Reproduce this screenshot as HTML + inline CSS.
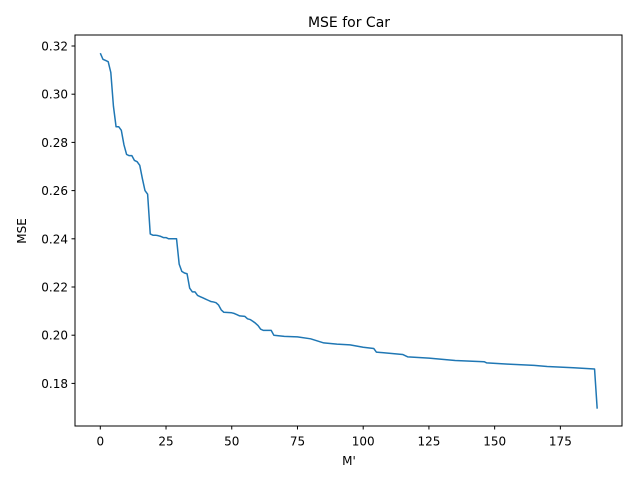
<!DOCTYPE html>
<html><head><meta charset="utf-8"><style>
body{margin:0;background:#fff}
svg{display:block;font-family:"DejaVu Sans","Liberation Sans",sans-serif}
</style></head><body>
<svg id="chart" width="640" height="484">
<text x="349" y="27" font-size="14" text-anchor="middle">MSE for Car</text>
<text x="349" y="465" font-size="12" text-anchor="middle">M'</text>
<text transform="translate(26,231) rotate(-90)" font-size="12" text-anchor="middle">MSE</text>
<g id="ticks"></g>
<path id="line" fill="none" stroke="#1f77b4" stroke-width="1.5" stroke-linejoin="round"/>
<rect x="75" y="35" width="547" height="391" fill="none" stroke="#000" stroke-width="1"/>
</svg>
<script>
const xs=[0,1,2,3,4,5,6,7,8,9,10,11,12,13,14,15,16,17,18,19,20,21,22,23,24,25,26,29,30,31,32,33,34,35,36,37,38,39,40,41,42,43,44,45,46,47,50,51,52,53,55,56,57,58,59,60,61,62,65,66,70,75,80,85,90,95,100,104,105,115,117,125,135,146,147,155,165,170,180,188,189];
const ys=[0.317,0.3145,0.314,0.3135,0.309,0.295,0.2865,0.2865,0.285,0.279,0.275,0.2745,0.2745,0.2725,0.272,0.2705,0.265,0.26,0.2585,0.242,0.2415,0.2415,0.2413,0.241,0.2405,0.2405,0.240,0.240,0.2295,0.2265,0.2258,0.2255,0.2195,0.218,0.218,0.2165,0.216,0.2155,0.215,0.2145,0.214,0.2138,0.2135,0.2125,0.2105,0.2095,0.2093,0.209,0.2085,0.208,0.2078,0.2068,0.2065,0.2058,0.205,0.204,0.2025,0.202,0.202,0.200,0.1995,0.1993,0.1985,0.1968,0.1963,0.196,0.195,0.1945,0.193,0.192,0.191,0.1905,0.1895,0.189,0.1885,0.188,0.1875,0.187,0.1865,0.186,0.1695];
const xTicks=[0,25,50,75,100,125,150,175];
const yTicks=[0.18,0.20,0.22,0.24,0.26,0.28,0.30,0.32];
const X=v=>100.3+v*2.629;
const Y=v=>46+(0.32-v)*2410;
const ns="http://www.w3.org/2000/svg";
const g=document.getElementById('ticks');
xTicks.forEach(t=>{
  const l=document.createElementNS(ns,'line');
  l.setAttribute('x1',X(t));l.setAttribute('x2',X(t));l.setAttribute('y1',426);l.setAttribute('y2',429.5);l.setAttribute('stroke','#000');
  
  
  g.appendChild(l);
  const tx=document.createElementNS(ns,'text');
  tx.setAttribute('x',X(t));tx.setAttribute('y',445.5);tx.setAttribute('font-size','12');tx.setAttribute('text-anchor','middle');
  tx.textContent=t;
  
  
  g.appendChild(tx);
});
yTicks.forEach(t=>{
  const l=document.createElementNS(ns,'line');
  l.setAttribute('x1',71.5);l.setAttribute('x2',75);l.setAttribute('y1',Y(t));l.setAttribute('y2',Y(t));l.setAttribute('stroke','#000');
  
  
  g.appendChild(l);
  const tx=document.createElementNS(ns,'text');
  tx.setAttribute('x',68);tx.setAttribute('y',Y(t)+4.5);tx.setAttribute('font-size','12');tx.setAttribute('text-anchor','end');
  tx.textContent=t.toFixed(2);
  
  
  g.appendChild(tx);
});
document.getElementById('line').setAttribute('d',xs.map((x,i)=>(i?'L':'M')+X(x).toFixed(2)+','+Y(ys[i]).toFixed(2)).join(''));
</script>
</body></html>
